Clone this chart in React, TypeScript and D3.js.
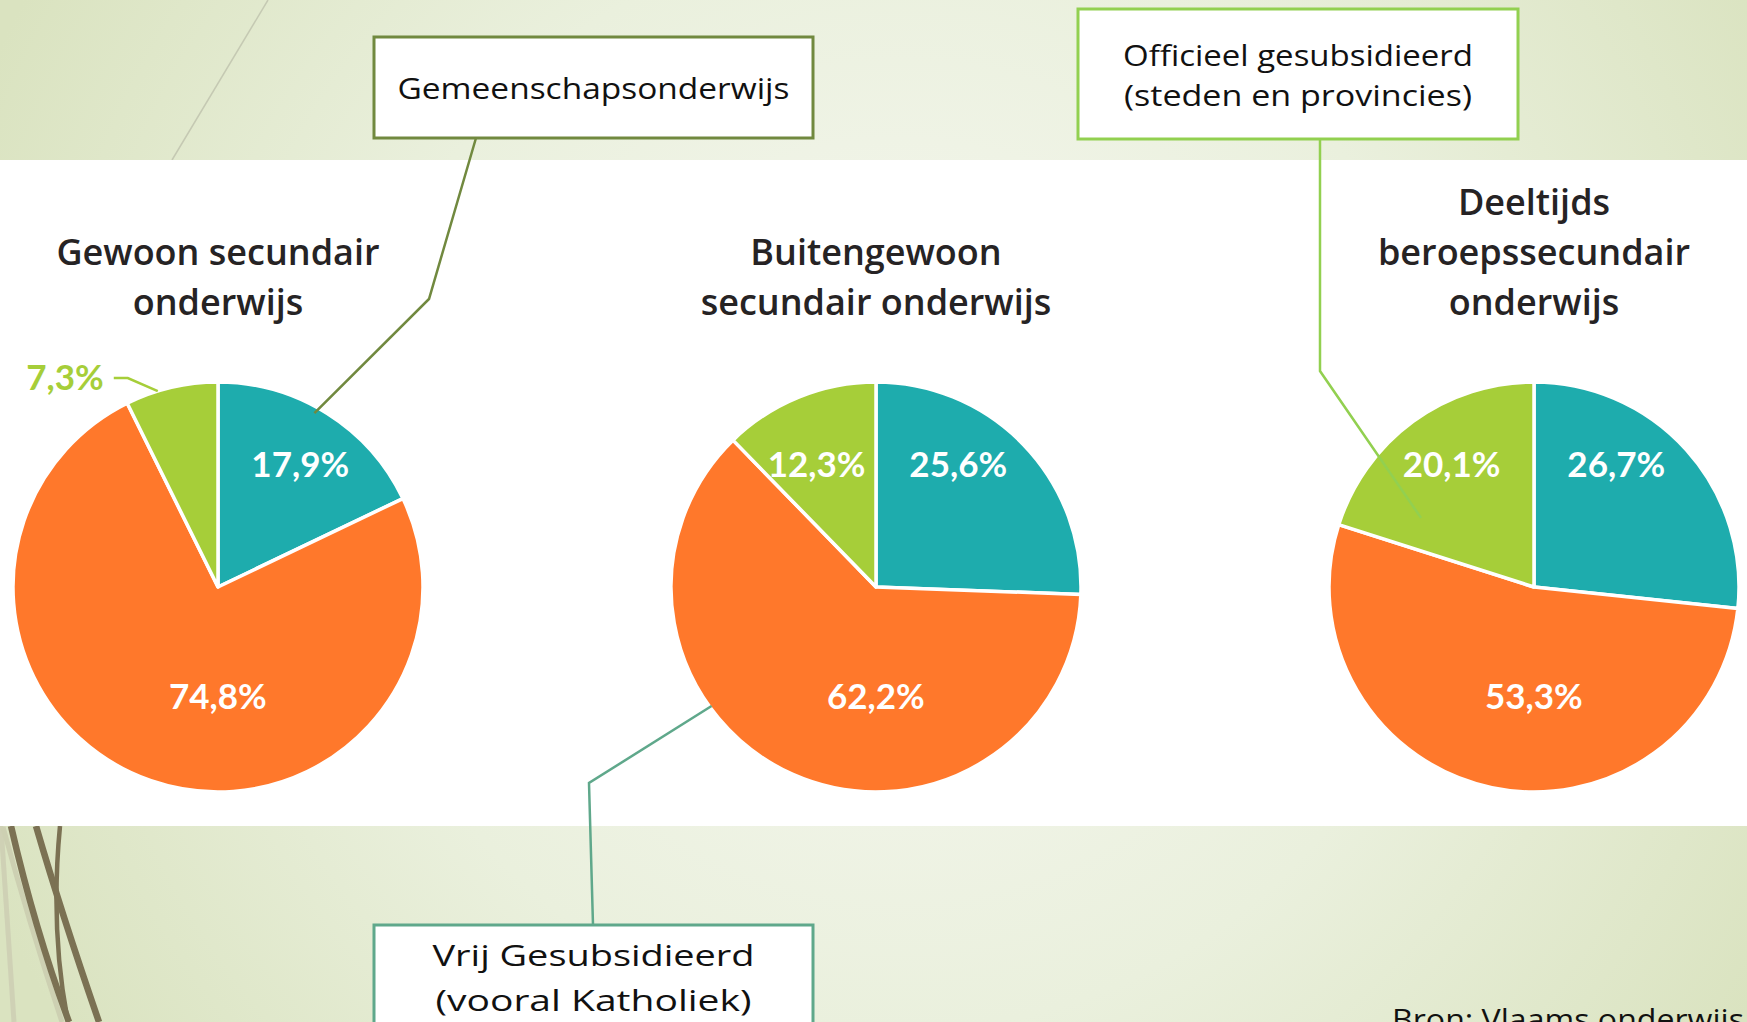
import React, { useEffect } from "react";
import * as d3 from "d3";

// ---------- data ----------
const panelKeys = ["gewoon", "buitengewoon", "deeltijds"];
const panelTitles = [
  ["Gewoon secundair", "onderwijs"],
  ["Buitengewoon", "secundair onderwijs"],
  ["Deeltijds", "beroepssecundair", "onderwijs"],
];
const networks = ["Gemeenschapsonderwijs", "Vrij gesubsidieerd", "Officieel gesubsidieerd"];
const gemeenschapsonderwijs = [17.9, 25.6, 26.7];
const vrijGesubsidieerd = [74.8, 62.2, 53.3];
const officieelGesubsidieerd = [7.3, 12.3, 20.1];
const networkColors = ["#1eacad", "#ff782b", "#a6ce39"];
const calloutTexts = [
  ["Gemeenschapsonderwijs"],
  ["Officieel gesubsidieerd", "(steden en provincies)"],
  ["Vrij Gesubsidieerd", "(vooral Katholiek)"],
];
const sourceText = "Bron: Vlaams onderwijs";

// ---------- layout ----------
const W = 1747;
const H = 1022;
const R = 205;
const CY = 587;
const TOP_ROW = -122;
const BOTTOM_ROW = 110;

const locale = d3.formatLocale({ decimal: ",", thousands: ".", grouping: [3], currency: ["€", ""] });
const fmt = (v: number) => locale.format(".1f")(v) + "%";

const xScale = d3.scalePoint<string>().domain(panelKeys).range([218, 1534]);
const pieGen = d3.pie<number>().sort(null).value((d) => d);
const arcGen = d3.arc<d3.PieArcDatum<number>>().innerRadius(0).outerRadius(R);

function spanMid(a0: number, a1: number, Y: number) {
  const w = Math.sqrt(R * R - Y * Y);
  let lo = Infinity;
  let hi = -Infinity;
  for (let x = -w; x <= w; x += 0.5) {
    let a = Math.atan2(x, -Y);
    if (a < 0) a += 2 * Math.PI;
    if (a >= a0 && a <= a1) {
      lo = Math.min(lo, x);
      hi = Math.max(hi, x);
    }
  }
  return (lo + hi) / 2;
}

const polar = (a: number, r: number) => [r * Math.sin(a), -r * Math.cos(a)];

// callout annotation geometry (box, knee, target slice)
const callouts = [
  { box: [374, 37, 439, 101], stroke: "#71893f", size: 30, baselines: [99], widths: [392], attach: [476, 138], knee: [429, 299], panel: 0, slice: 0, t: 0.45, rf: 0.97 },
  { box: [1078, 9, 440, 130], stroke: "#92d050", size: 29, baselines: [66, 106], widths: [350, 348], attach: [1320, 139], knee: [1320, 371], panel: 2, slice: 2, t: 0.19, rf: 0.646 },
  { box: [374, 925, 439, 120], stroke: "#5fa88b", size: 30, baselines: [966, 1011], widths: [322, 316], attach: [593, 925], knee: [589, 783], panel: 1, slice: 1, t: 0.635, rf: 0.99 },
];

export default function App() {
  useEffect(() => {
    document.body.style.margin = "0";
  }, []);

  const panels = panelKeys.map((k, i) => {
    const values = [gemeenschapsonderwijs[i], vrijGesubsidieerd[i], officieelGesubsidieerd[i]];
    return { key: k, cx: xScale(k) as number, arcs: pieGen(values), titles: panelTitles[i] };
  });

  return (
    <svg width={W} height={H} style={{ display: "block", position: "absolute", left: 0, top: 0 }}>
      <defs>
        <radialGradient id="bg" gradientUnits="userSpaceOnUse" cx={900} cy={480} r={1000}>
          <stop offset="0" stopColor="#f7f8f2" />
          <stop offset="0.55" stopColor="#eaf0dd" />
          <stop offset="1" stopColor="#dae3c0" />
        </radialGradient>
      </defs>
      <rect x={0} y={0} width={W} height={H} fill="url(#bg)" />

      {/* decorative theme lines */}
      <path d="M 268 0 Q 225 72 172 160" fill="none" stroke="#c5c9b3" strokeWidth={1.5} />
      <g fill="none">
        <path d="M 1 826 Q 8 930 14 1022" stroke="#cfd1b5" strokeWidth={5} />
        <path d="M 3 827 Q 28 920 62 1022" stroke="#cdd0b2" strokeWidth={5} />
        <path d="M 11 826 Q 35 930 69 1022" stroke="#7b7153" strokeWidth={6.5} />
        <path d="M 36 826 Q 62 915 99 1022" stroke="#7b7153" strokeWidth={6.5} />
        <path d="M 60 826 Q 50 930 68 1022" stroke="#7b7153" strokeWidth={4.5} />
      </g>

      {/* white chart band */}
      <rect x={0} y={160} width={W} height={666} fill="#ffffff" />

      {panels.map((p) => (
        <g key={p.key}>
          {p.titles.map((line, li) => (
            <text
              key={li}
              x={p.cx}
              y={315 - (p.titles.length - 1 - li) * 50}
              textAnchor="middle"
              fontFamily="'Open Sans', Lato, sans-serif"
              fontWeight={600}
              fontSize={36}
              fill="#262324"
            >
              {line}
            </text>
          ))}
          <g transform={`translate(${p.cx},${CY})`}>
            {p.arcs.map((a, si) => (
              <path key={si} d={arcGen(a) as string} fill={networkColors[si]} stroke="#ffffff" strokeWidth={3.5} strokeLinejoin="round" />
            ))}
            {p.arcs.map((a, si) => {
              if (a.value < 10) {
                const ang = a.startAngle + 0.35 * (a.endAngle - a.startAngle);
                const [ex, ey] = polar(ang, R);
                const kx = ex - 30;
                const ky = ey - 13;
                const sx = kx - 14;
                return (
                  <g key={"l" + si}>
                    <polyline points={`${sx},${ky} ${kx},${ky} ${ex},${ey}`} fill="none" stroke={networkColors[si]} strokeWidth={2.5} />
                    <text x={sx - 10} y={ky} dy="0.35em" textAnchor="end" fontFamily="Lato, sans-serif" fontWeight={700} fontSize={35} fill={networkColors[si]}>
                      {fmt(a.value)}
                    </text>
                  </g>
                );
              }
              const mid = (a.startAngle + a.endAngle) / 2;
              const Y = Math.cos(mid) > 0 ? TOP_ROW : BOTTOM_ROW;
              const x = spanMid(a.startAngle, a.endAngle, Y);
              return (
                <text key={"l" + si} x={x} y={Y} dy="0.35em" textAnchor="middle" fontFamily="Lato, sans-serif" fontWeight={700} fontSize={35} fill="#ffffff">
                  {fmt(a.value)}
                </text>
              );
            })}
          </g>
        </g>
      ))}

      {/* callouts */}
      {callouts.map((c, ci) => {
        const p = panels[c.panel];
        const a = p.arcs[c.slice];
        const ang = a.startAngle + c.t * (a.endAngle - a.startAngle);
        const [tx, ty] = polar(ang, c.rf * R);
        const [bx, by, bw, bh] = c.box;
        return (
          <g key={"c" + ci}>
            <polyline
              points={`${c.attach[0]},${c.attach[1]} ${c.knee[0]},${c.knee[1]} ${p.cx + tx},${CY + ty}`}
              fill="none"
              stroke={c.stroke}
              strokeWidth={2.5}
            />
            <rect x={bx} y={by} width={bw} height={bh} fill="#ffffff" stroke={c.stroke} strokeWidth={3} />
            {calloutTexts[ci].map((line, li) => (
              <text
                key={li}
                x={bx + bw / 2}
                y={c.baselines[li]}
                textAnchor="middle"
                fontFamily="'Open Sans', 'Noto Sans', sans-serif"
                fontWeight={400}
                fontSize={c.size}
                fill="#111111"
                textLength={c.widths[li]}
                lengthAdjust="spacingAndGlyphs"
              >
                {line}
              </text>
            ))}
          </g>
        );
      })}

      <text
        x={1392}
        y={1030}
        fontFamily="'Open Sans', 'Noto Sans', sans-serif"
        fontWeight={400}
        fontSize={29}
        fill="#111111"
        textLength={352}
        lengthAdjust="spacingAndGlyphs"
      >
        {sourceText}
      </text>
      <title>{networks.join(", ")}</title>
    </svg>
  );
}
